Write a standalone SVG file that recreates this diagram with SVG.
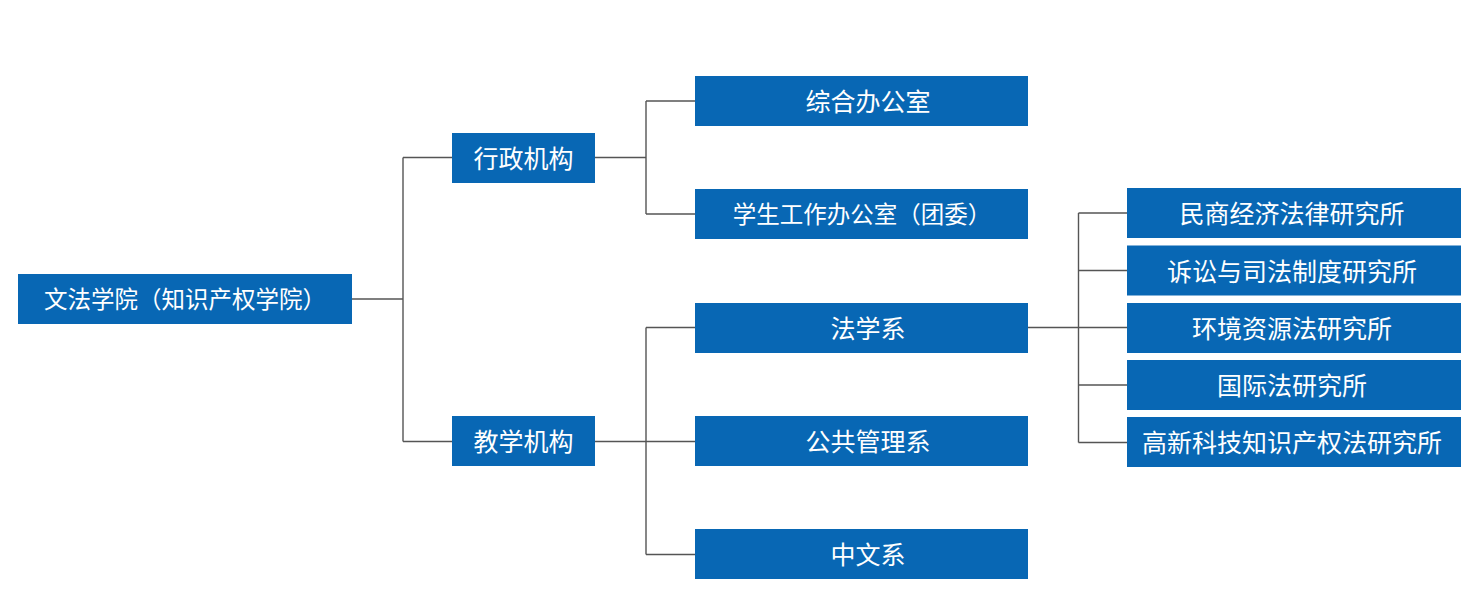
<svg xmlns="http://www.w3.org/2000/svg" width="1480" height="597" viewBox="0 0 1480 597">
<style>
.b{fill:#0867b4}
.t{fill:#fff;font-family:"Noto Sans CJK SC","Noto Sans",sans-serif;font-size:25px;text-anchor:middle;dominant-baseline:central}
.s{font-size:23.5px}
.c{fill:none;stroke:#555;stroke-width:1.4}
</style>
<rect width="1480" height="597" fill="#fff"/>
<g id="connectors">
<path class="c" d="M352 299H403M403 157.5V441.5M403 157.5H452M403 441.5H452"/>
<path class="c" d="M595 157.5H646M646 101V214M646 101H695M646 214H695"/>
<path class="c" d="M595 441.5H695M646 327.5V554.5M646 327.5H695M646 554.5H695"/>
<path class="c" d="M1028 327.5H1127M1078.5 213V442.5M1078.5 213H1127M1078.5 270.5H1127M1078.5 385H1127M1078.5 442.5H1127"/>
</g>
<g id="root"><rect class="b" x="18" y="274" width="334" height="50"/><text class="t s" x="185" y="298">文法学院（知识产权学院）</text></g>
<g id="xingzheng"><rect class="b" x="452" y="133" width="143" height="50"/><text class="t" x="523.5" y="157">行政机构</text></g>
<g id="jiaoxue"><rect class="b" x="452" y="416" width="143" height="50"/><text class="t" x="523.5" y="440">教学机构</text></g>
<g id="zonghe"><rect class="b" x="695" y="76" width="333" height="50"/><text class="t" x="868" y="100">综合办公室</text></g>
<g id="xuesheng"><rect class="b" x="695" y="189" width="333" height="50"/><text class="t s" x="862" y="213">学生工作办公室（团委）</text></g>
<g id="faxue"><rect class="b" x="695" y="303" width="333" height="50"/><text class="t" x="868" y="327">法学系</text></g>
<g id="gonggong"><rect class="b" x="695" y="416" width="333" height="50"/><text class="t" x="868" y="440">公共管理系</text></g>
<g id="zhongwen"><rect class="b" x="695" y="529" width="333" height="50"/><text class="t" x="868" y="553">中文系</text></g>
<g id="minshang"><rect class="b" x="1127" y="188" width="334" height="50"/><text class="t" x="1292" y="212">民商经济法律研究所</text></g>
<g id="susong"><rect class="b" x="1127" y="245.5" width="334" height="50"/><text class="t" x="1292" y="269.5">诉讼与司法制度研究所</text></g>
<g id="huanjing"><rect class="b" x="1127" y="303" width="334" height="50"/><text class="t" x="1292" y="327">环境资源法研究所</text></g>
<g id="guoji"><rect class="b" x="1127" y="360" width="334" height="50"/><text class="t" x="1292" y="384">国际法研究所</text></g>
<g id="gaoxin"><rect class="b" x="1127" y="417" width="334" height="50"/><text class="t" x="1292" y="441">高新科技知识产权法研究所</text></g>
</svg>
